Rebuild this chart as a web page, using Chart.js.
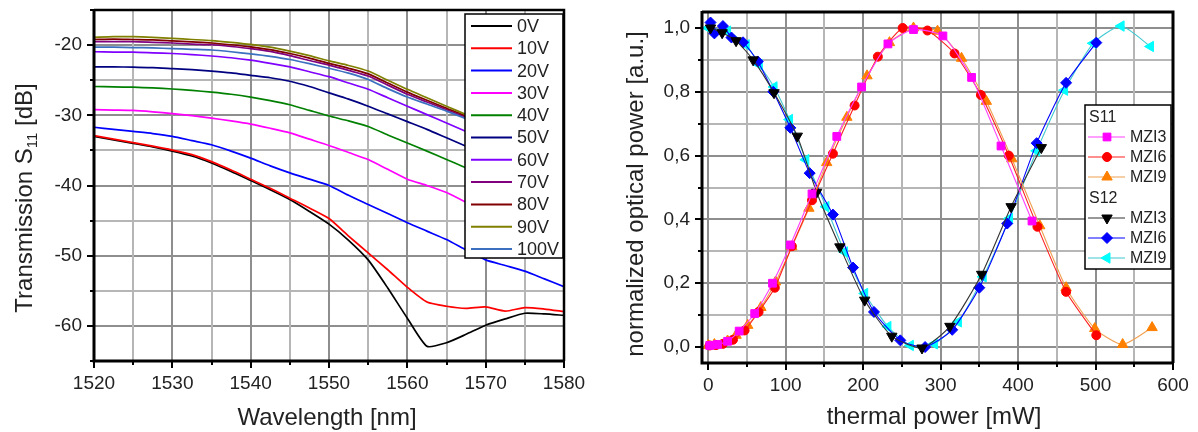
<!DOCTYPE html>
<html>
<head>
<meta charset="utf-8">
<script src="https://cdn.jsdelivr.net/npm/chart.js@4.4.0/dist/chart.umd.min.js"></script>
<style>
  html, body { margin: 0; padding: 0; background: #fff; }
  #wrap { position: relative; width: 1198px; height: 432px; }
  .panel { position: absolute; top: 0; width: 599px; height: 432px; }
</style>
</head>
<body>
<div id="wrap">
  <div class="panel" style="left:0"><canvas id="left" width="599" height="432"></canvas></div>
  <div class="panel" style="left:599px"><canvas id="right" width="599" height="432"></canvas></div>
</div>
<script>
// ---- left panel: transmission spectra, one curve per voltage ----
const wavelength = [1520, 1522.5, 1525, 1527.5, 1530, 1532.5, 1535, 1537.5, 1540, 1542.5, 1545, 1547.5,
  1550, 1552.5, 1555, 1557.5, 1560, 1562.5, 1565, 1567.5, 1570, 1572.5, 1575, 1577.5, 1580];
const voltLabels = ['0V', '10V', '20V', '30V', '40V', '50V', '60V', '70V', '80V', '90V', '100V'];
const voltColors = ['#000000', '#ff0000', '#0000ff', '#ff00ff', '#008000', '#000080', '#8000ff', '#800080', '#800000', '#808000', '#3b6fc0'];

const t0V = [-33.0, -33.5, -34.0, -34.5, -35.1, -35.8, -36.8, -38.0, -39.3, -40.6, -42.0, -43.7,
  -45.5, -47.8, -50.6, -54.6, -58.9, -62.9, -62.4, -61.2, -59.9, -59.0, -58.2, -58.3, -58.5];
const t10V = [-32.9, -33.4, -33.9, -34.4, -34.95, -35.6, -36.6, -37.8, -39.1, -40.4, -41.8, -43.2,
  -44.7, -47.2, -49.6, -52.0, -54.5, -56.6, -57.2, -57.5, -57.3, -57.9, -57.4, -57.6, -57.95];
const t20V = [-31.7, -32.0, -32.3, -32.6, -33.0, -33.6, -34.2, -35.1, -36.1, -37.2, -38.2, -39.1,
  -40.0, -41.4, -42.7, -44.0, -45.3, -46.5, -47.7, -49.2, -50.6, -51.4, -52.2, -53.3, -54.4];
const t30V = [-29.2, -29.25, -29.3, -29.5, -29.75, -30.05, -30.4, -30.8, -31.25, -31.85, -32.5, -33.4,
  -34.3, -35.3, -36.3, -37.7, -39.1, -40.0, -41.0, -42.4, -43.9, -45.3, -46.7, -48.0, -49.2];
const t40V = [-25.9, -25.95, -26.0, -26.1, -26.25, -26.45, -26.7, -27.0, -27.4, -27.9, -28.5, -29.3,
  -30.1, -30.8, -31.6, -32.8, -33.95, -35.1, -36.3, -37.5, -38.8, -40.2, -41.6, -43.0, -44.5];
const t50V = [-23.1, -23.1, -23.15, -23.2, -23.35, -23.5, -23.7, -23.95, -24.3, -24.65, -25.15, -25.9,
  -26.8, -27.7, -28.7, -29.8, -30.9, -32.0, -33.2, -34.4, -35.6, -36.8, -38.0, -39.4, -40.8];
const t60V = [-20.95, -21.0, -21.0, -21.1, -21.2, -21.35, -21.55, -21.8, -22.15, -22.6, -23.1, -23.8,
  -24.5, -25.4, -26.3, -27.5, -28.7, -29.9, -31.1, -32.3, -33.5, -34.6, -35.8, -37.0, -38.2];
const t70V = [-19.5, -19.5, -19.5, -19.6, -19.7, -19.85, -19.95, -20.2, -20.5, -20.9, -21.5, -22.2,
  -22.85, -23.6, -24.4, -25.7, -27.0, -28.1, -29.2, -30.3, -31.5, -32.7, -33.9, -35.1, -36.3];
const t80V = [-19.2, -19.15, -19.2, -19.25, -19.4, -19.55, -19.7, -19.95, -20.25, -20.65, -21.2, -21.85,
  -22.6, -23.3, -24.1, -25.4, -26.7, -27.85, -29.0, -30.1, -31.3, -32.5, -33.7, -34.9, -36.1];
const t90V = [-18.9, -18.8, -18.8, -18.9, -19.05, -19.2, -19.35, -19.6, -19.9, -20.3, -20.85, -21.5,
  -22.25, -22.9, -23.7, -25.0, -26.3, -27.5, -28.7, -29.9, -31.1, -32.3, -33.5, -34.7, -35.8];
const t100V = [-20.3, -20.3, -20.35, -20.4, -20.5, -20.6, -20.7, -20.95, -21.25, -21.6, -22.05, -22.65,
  -23.3, -24.0, -24.9, -26.2, -27.4, -28.4, -29.4, -30.5, -31.7, -32.9, -34.1, -35.3, -36.5];
const voltSeries = [t0V, t10V, t20V, t30V, t40V, t50V, t60V, t70V, t80V, t90V, t100V];

// ---- right panel: normalized power vs thermal power ----
const s11Mzi3P = [2, 12, 25, 40, 60, 83, 106, 134, 166, 198, 232, 265, 303, 340, 378, 418];
const s11Mzi3V = [0.005, 0.008, 0.018, 0.05, 0.105, 0.2, 0.32, 0.48, 0.66, 0.815, 0.95, 0.995, 0.975, 0.845, 0.63, 0.395];
const s11Mzi6P = [2, 10, 19, 32, 47, 65, 86, 108, 134, 161, 189, 219, 251, 283, 318, 352, 388, 425, 462, 501];
const s11Mzi6V = [0.005, 0.006, 0.01, 0.023, 0.052, 0.11, 0.186, 0.316, 0.46, 0.606, 0.757, 0.91, 1.0, 0.992, 0.92, 0.79, 0.6, 0.377, 0.173, 0.037];
const s11Mzi9P = [0, 8, 25, 36, 51, 68, 87, 108, 130, 153, 179, 205, 234, 265, 296, 327, 359, 392, 428, 462, 499, 535, 573];
const s11Mzi9V = [0.005, 0.008, 0.019, 0.037, 0.068, 0.124, 0.204, 0.314, 0.435, 0.578, 0.72, 0.85, 0.954, 1.0, 0.99, 0.905, 0.77, 0.59, 0.38, 0.186, 0.058, 0.008, 0.061];
const s12Mzi3P = [3, 18, 36, 58, 85, 115, 140, 170, 202, 237, 276, 312, 353, 391, 430];
const s12Mzi3V = [1.0, 0.985, 0.96, 0.9, 0.797, 0.661, 0.485, 0.314, 0.147, 0.034, -0.003, 0.065, 0.228, 0.44, 0.625];
const s12Mzi6P = [3, 8, 19, 30, 45, 64, 84, 106, 131, 161, 187, 214, 248, 280, 315, 350, 386, 424, 462, 501];
const s12Mzi6V = [1.017, 0.983, 1.006, 0.97, 0.955, 0.895, 0.8, 0.687, 0.545, 0.415, 0.249, 0.11, 0.021, 0.0, 0.054, 0.186, 0.387, 0.639, 0.828, 0.954];
const s12Mzi9P = [0, 25, 49, 66, 85, 105, 126, 152, 176, 202, 232, 261, 292, 323, 355, 389, 424, 460, 497, 533, 571];
const s12Mzi9V = [1.0, 0.99, 0.947, 0.885, 0.815, 0.713, 0.587, 0.44, 0.298, 0.168, 0.064, 0.005, 0.01, 0.079, 0.22, 0.403, 0.615, 0.805, 0.952, 1.006, 0.942];

const FONT = '"Liberation Sans", Arial, sans-serif';
const INK = '#222';

const toPoints = (xs, ys) => xs.map((x, i) => ({ x: x, y: ys[i] }));
const makeTicks = (from, to, step) => {
  const t = [];
  for (let v = from; v <= to + 1e-9; v += step) t.push({ value: +v.toFixed(4) });
  return t;
};

// grid (painted behind everything), then frame + outward tick marks
function framePlugin(isMajorX, isMajorY, topRightWidth) {
  return {
    id: 'frame',
    afterDraw(chart) {
      const { ctx, chartArea: a, scales } = chart;
      const xs = scales.x.ticks.map(t => ({ v: t.value, p: Math.round(scales.x.getPixelForValue(t.value)) }));
      const ys = scales.y.ticks.map(t => ({ v: t.value, p: Math.round(scales.y.getPixelForValue(t.value)) }));

      ctx.save();
      ctx.globalCompositeOperation = 'destination-over';
      ctx.lineWidth = 2;
      xs.forEach(t => {
        ctx.strokeStyle = isMajorX(t.v) ? '#8e8e8e' : '#b6b6b6';
        ctx.beginPath(); ctx.moveTo(t.p, a.top); ctx.lineTo(t.p, a.bottom); ctx.stroke();
      });
      ys.forEach(t => {
        ctx.strokeStyle = isMajorY(t.v) ? '#8e8e8e' : '#b6b6b6';
        ctx.beginPath(); ctx.moveTo(a.left, t.p); ctx.lineTo(a.right, t.p); ctx.stroke();
      });
      ctx.restore();

      ctx.save();
      ctx.strokeStyle = '#000';
      ctx.lineWidth = 2;
      xs.forEach(t => {
        const len = isMajorX(t.v) ? 7 : 4;
        ctx.beginPath(); ctx.moveTo(t.p, a.bottom); ctx.lineTo(t.p, a.bottom + len); ctx.stroke();
      });
      ys.forEach(t => {
        const len = isMajorY(t.v) ? 7 : 4;
        ctx.beginPath(); ctx.moveTo(a.left, t.p); ctx.lineTo(a.left - len, t.p); ctx.stroke();
      });
      ctx.lineWidth = topRightWidth;
      ctx.beginPath();
      ctx.moveTo(a.left, a.top); ctx.lineTo(a.right, a.top); ctx.lineTo(a.right, a.bottom);
      ctx.stroke();
      ctx.lineWidth = 3;
      ctx.beginPath();
      ctx.moveTo(a.left, a.top - 1); ctx.lineTo(a.left, a.bottom); ctx.lineTo(a.right + 1, a.bottom);
      ctx.stroke();
      ctx.restore();
    }
  };
}

function axisCfg(min, max, ticks, isMajor, fmt, size, pad) {
  return {
    type: 'linear', min: min, max: max,
    afterBuildTicks(s) { s.ticks = ticks.map(t => ({ value: t.value })); },
    afterFit(s) {
      if (s.isHorizontal()) { s.height = size; s.paddingLeft = 0; s.paddingRight = 0; }
      else { s.width = size; s.paddingTop = 0; s.paddingBottom = 0; }
    },
    border: { display: false },
    grid: { display: false, drawTicks: false },
    ticks: {
      autoSkip: false, maxRotation: 0, padding: pad,
      color: INK, font: { family: FONT, size: 19 },
      callback: v => isMajor(v) ? fmt(v) : ''
    }
  };
}

// ---------- left chart ----------
const leftMajorX = v => Math.round(v) % 10 === 0;
const leftMajorY = v => Math.round(v) % 10 === 0;

const leftLegend = {
  id: 'leftLegend',
  afterDatasetsDraw(chart) {
    const ctx = chart.ctx;
    ctx.save();
    ctx.fillStyle = '#fff';
    ctx.fillRect(465, 14, 98, 244);
    ctx.strokeStyle = '#000'; ctx.lineWidth = 1.5;
    ctx.strokeRect(465, 14, 98, 244);
    ctx.font = '18px ' + FONT;
    ctx.textBaseline = 'middle';
    voltLabels.forEach((lab, i) => {
      const y = 26 + i * 22.3;
      ctx.strokeStyle = voltColors[i]; ctx.lineWidth = 2;
      ctx.beginPath(); ctx.moveTo(471, y); ctx.lineTo(512, y); ctx.stroke();
      ctx.fillStyle = INK;
      ctx.fillText(lab, 517, y + 1);
    });
    ctx.restore();
  }
};

const leftTitles = {
  id: 'leftTitles',
  afterDraw(chart) {
    const ctx = chart.ctx;
    ctx.save();
    ctx.fillStyle = INK;
    ctx.textBaseline = 'alphabetic';
    ctx.font = '24px ' + FONT;
    ctx.textAlign = 'center';
    ctx.fillText('Wavelength [nm]', 327, 425);
    // rotated y title with subscript
    ctx.translate(32, 198);
    ctx.rotate(-Math.PI / 2);
    ctx.textAlign = 'left';
    const big = '24px ' + FONT, small = '15px ' + FONT;
    ctx.font = big; const w1 = ctx.measureText('Transmission S').width;
    ctx.font = small; const w2 = ctx.measureText('11').width;
    ctx.font = big; const w3 = ctx.measureText(' [dB]').width;
    let x = -(w1 + w2 + w3) / 2;
    ctx.fillText('Transmission S', x, 0); x += w1;
    ctx.font = small; ctx.fillText('11', x, 5); x += w2;
    ctx.font = big; ctx.fillText(' [dB]', x, 0);
    ctx.restore();
  }
};

new Chart(document.getElementById('left'), {
  type: 'line',
  data: {
    datasets: voltSeries.map((s, i) => ({
      label: voltLabels[i],
      data: toPoints(wavelength, s),
      borderColor: voltColors[i],
      borderWidth: 1.7,
      pointRadius: 0,
      tension: 0.2,
      order: -i
    }))
  },
  options: {
    responsive: false,
    animation: false,
    layout: { padding: { top: 10, right: 35, left: 0, bottom: 0 } },
    plugins: { legend: { display: false }, tooltip: { enabled: false } },
    scales: {
      x: axisCfg(1520, 1580, makeTicks(1520, 1580, 5), leftMajorX, v => String(v), 71, 11),
      y: axisCfg(-65, -15, makeTicks(-65, -15, 5), leftMajorY, v => String(v), 94, 12)
    }
  },
  plugins: [leftLegend, leftTitles, framePlugin(leftMajorX, leftMajorY, 2.5)]
});

// ---------- right chart ----------
const rightMajorX = v => Math.round(v) % 100 === 0;
const rightMajorY = v => Math.round(v * 10) % 2 === 0;

const rightSeries = [
  { label: 'MZI3', group: 'S11', p: s11Mzi3P, v: s11Mzi3V, color: '#ff00ff', line: '#ff40ff', style: 'rect', radius: 5.5, rot: 0 },
  { label: 'MZI6', group: 'S11', p: s11Mzi6P, v: s11Mzi6V, color: '#ff0000', line: '#ff2020', style: 'circle', radius: 4.5, rot: 0 },
  { label: 'MZI9', group: 'S11', p: s11Mzi9P, v: s11Mzi9V, color: '#ff8000', line: '#f0a050', style: 'triangle', radius: 6, rot: 0 },
  { label: 'MZI3', group: 'S12', p: s12Mzi3P, v: s12Mzi3V, color: '#000000', line: '#333333', style: 'triangle', radius: 6, rot: 180 },
  { label: 'MZI6', group: 'S12', p: s12Mzi6P, v: s12Mzi6V, color: '#0000ff', line: '#0000ff', style: 'rectRot', radius: 5.5, rot: 0 },
  { label: 'MZI9', group: 'S12', p: s12Mzi9P, v: s12Mzi9V, color: '#00ffff', line: '#40c8d0', style: 'triangle', radius: 6, rot: 270 }
];

const rightLegend = {
  id: 'rightLegend',
  afterDatasetsDraw(chart) {
    const ctx = chart.ctx;
    ctx.save();
    ctx.fillStyle = '#fff';
    ctx.fillRect(486, 105, 86, 164);
    ctx.strokeStyle = '#000'; ctx.lineWidth = 1.5;
    ctx.strokeRect(486, 105, 86, 164);
    ctx.font = '16px ' + FONT;
    ctx.textBaseline = 'middle';
    const rows = [
      { head: 'S11', y: 117 }, { s: 0, y: 137 }, { s: 1, y: 157 }, { s: 2, y: 177 },
      { head: 'S12', y: 198 }, { s: 3, y: 218 }, { s: 4, y: 238 }, { s: 5, y: 258 }
    ];
    rows.forEach(r => {
      ctx.fillStyle = INK;
      if (r.head) { ctx.fillText(r.head, 490, r.y + 1); return; }
      const s = rightSeries[r.s];
      ctx.strokeStyle = s.line; ctx.lineWidth = 1.2;
      ctx.beginPath(); ctx.moveTo(489, r.y); ctx.lineTo(526, r.y); ctx.stroke();
      ctx.fillStyle = s.color; ctx.strokeStyle = s.color; ctx.lineWidth = 1;
      Chart.helpers.drawPoint(ctx, { pointStyle: s.style, radius: s.radius, rotation: s.rot, borderWidth: 1 }, 508, r.y);
      ctx.fillStyle = INK;
      ctx.fillText(s.label, 531, r.y + 1);
    });
    ctx.restore();
  }
};

const rightTitles = {
  id: 'rightTitles',
  afterDraw(chart) {
    const ctx = chart.ctx;
    ctx.save();
    ctx.fillStyle = INK;
    ctx.font = '24px ' + FONT;
    ctx.textAlign = 'center';
    ctx.textBaseline = 'alphabetic';
    ctx.fillText('thermal power [mW]', 335, 424);
    ctx.translate(44, 194);
    ctx.rotate(-Math.PI / 2);
    ctx.fillText('normalized optical power [a.u.]', 0, 0);
    ctx.restore();
  }
};

new Chart(document.getElementById('right'), {
  type: 'line',
  data: {
    datasets: rightSeries.map(s => ({
      label: s.group + ' ' + s.label,
      data: toPoints(s.p, s.v),
      borderColor: s.line,
      backgroundColor: s.color,
      pointBackgroundColor: s.color,
      pointBorderColor: s.color,
      pointBorderWidth: 1,
      borderWidth: 1.1,
      pointStyle: s.style,
      pointRadius: s.radius,
      pointRotation: s.rot,
      tension: 0.2
    }))
  },
  options: {
    responsive: false,
    animation: false,
    layout: { padding: { top: 12, right: 25, left: 0, bottom: 0 } },
    plugins: { legend: { display: false }, tooltip: { enabled: false } },
    scales: {
      x: axisCfg(-8, 600, makeTicks(0, 600, 50), rightMajorX, v => String(v), 69, 11),
      y: axisCfg(-0.05, 1.05, makeTicks(0, 1, 0.1), rightMajorY, v => v.toFixed(1).replace('.', ','), 103, 12)
    }
  },
  plugins: [rightLegend, rightTitles, framePlugin(rightMajorX, rightMajorY, 3)]
});
</script>
</body>
</html>
